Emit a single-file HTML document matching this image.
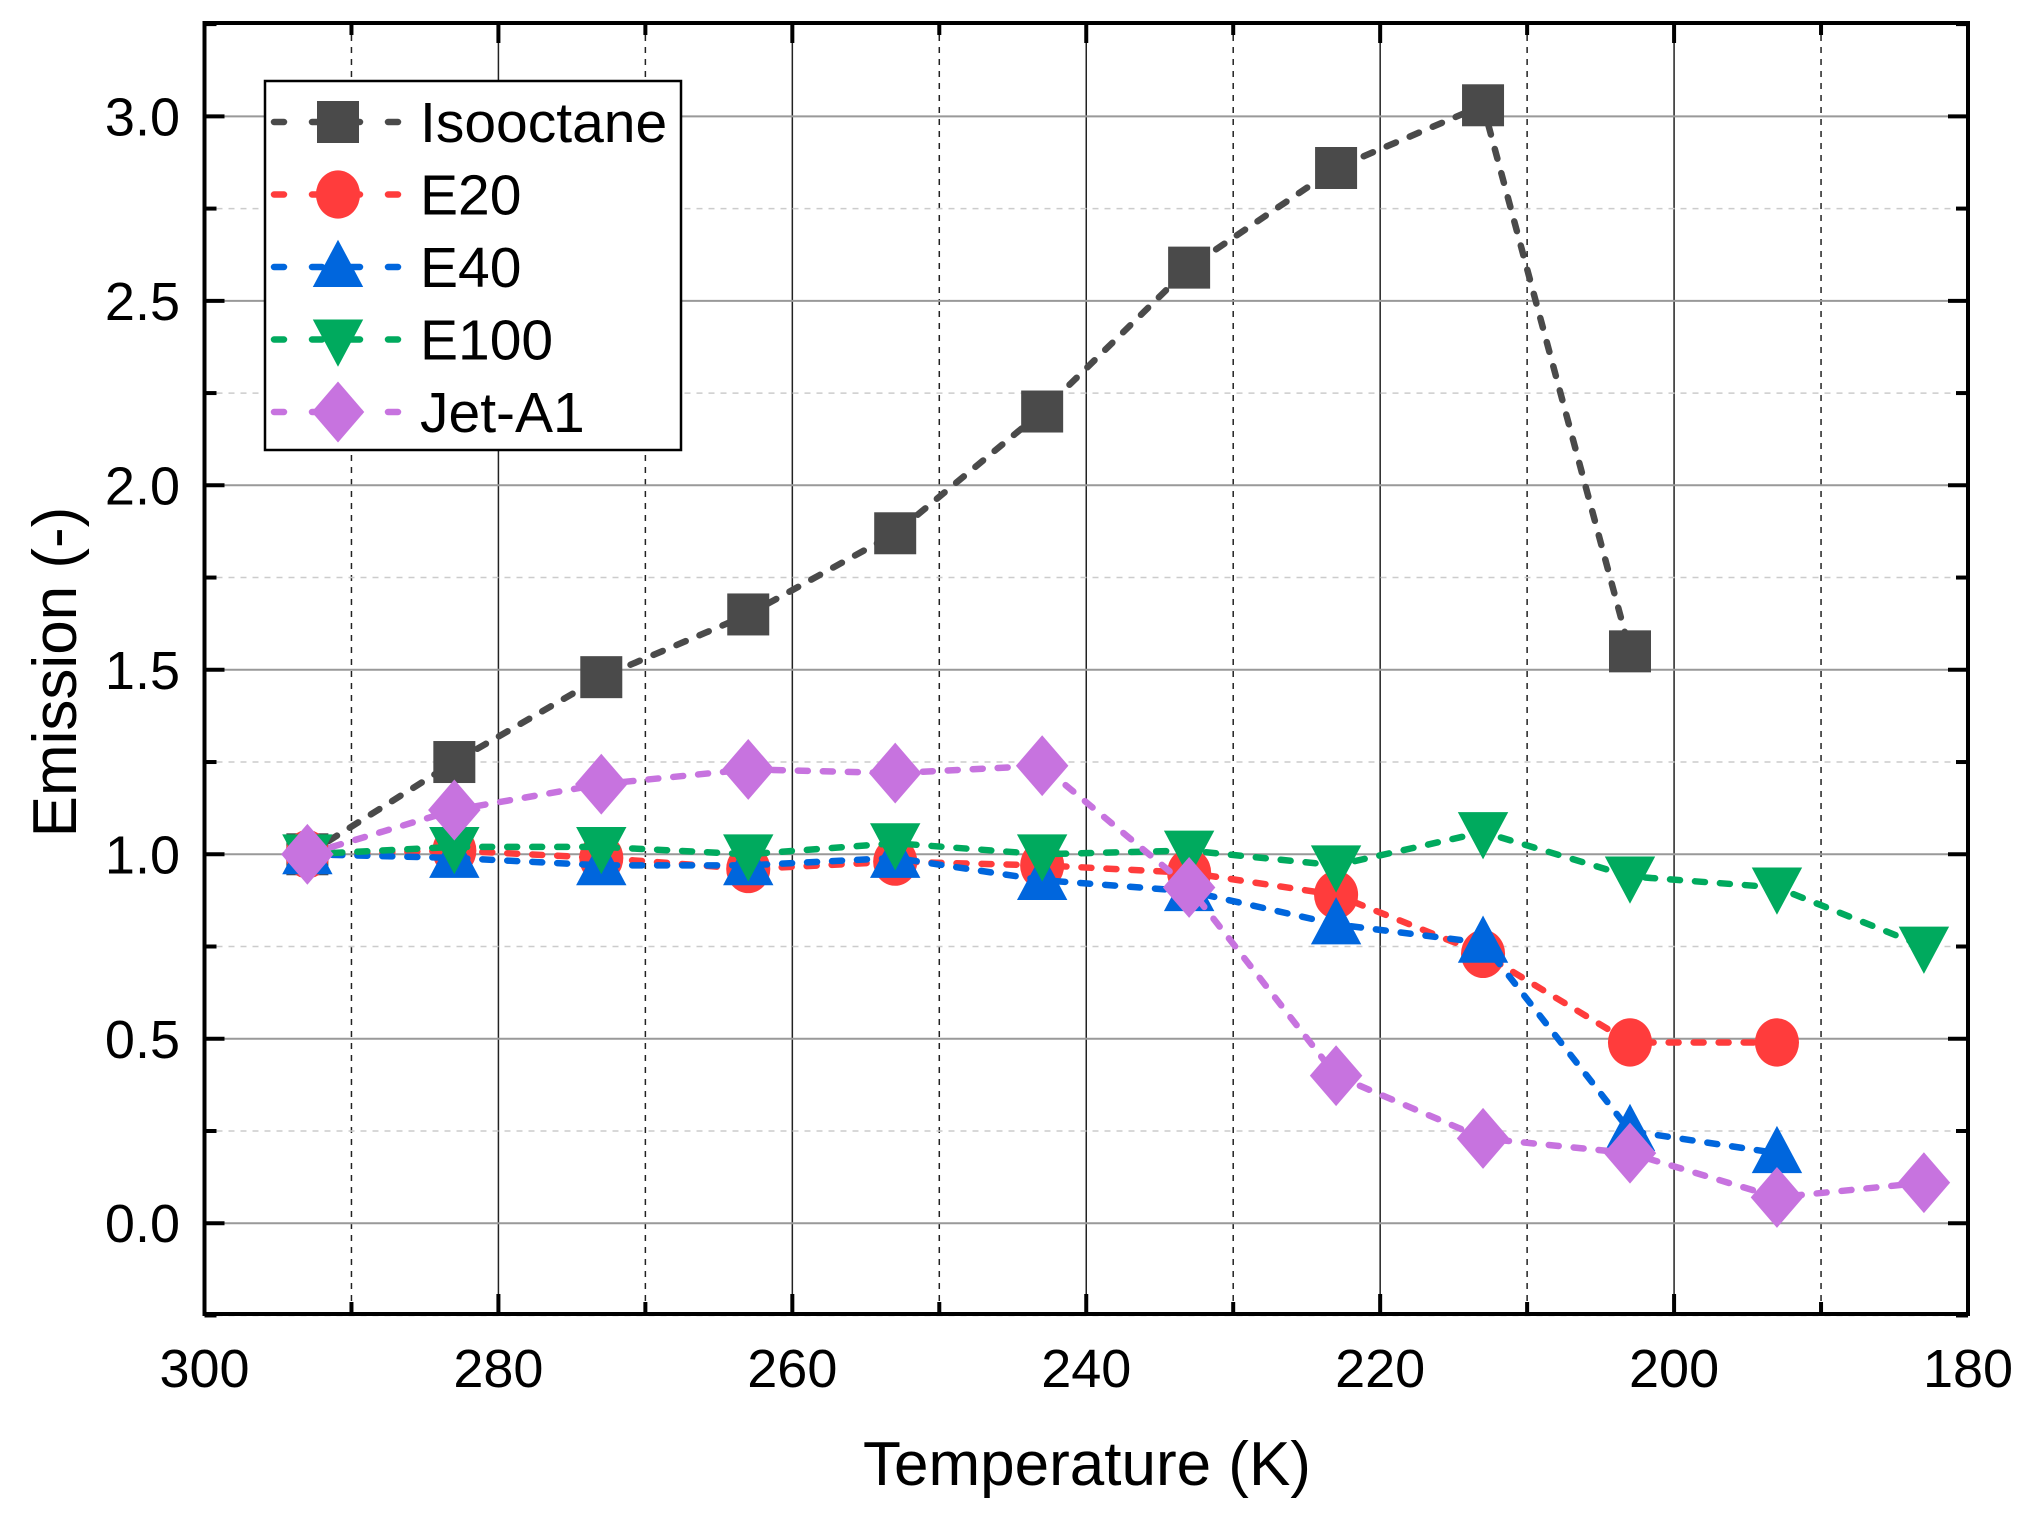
<!DOCTYPE html>
<html><head><meta charset="utf-8"><style>
html,body{margin:0;padding:0;background:#fff;}
svg{display:block;font-family:"Liberation Sans",Arial,sans-serif;}
</style></head><body>
<svg id="chart" width="2030" height="1519" viewBox="0 0 2030 1519">
<g id="grid"></g>
<g id="series"></g>
<g id="axes"></g>
<g id="legend"></g>
</svg>
<script>
const temps = [293,283,273,263,253,243,233,223,213,203,193,183];
const isooctane = [1.0,1.25,1.48,1.65,1.87,2.2,2.59,2.86,3.03,1.55];
const e20 = [1.0,1.01,0.99,0.96,0.98,0.97,0.95,0.89,0.73,0.49,0.49];
const e40 = [1.0,0.99,0.97,0.97,0.99,0.93,0.90,0.81,0.76,0.25,0.19];
const e100 = [1.0,1.02,1.02,1.0,1.03,1.0,1.01,0.97,1.06,0.94,0.91,0.75];
const jetA1 = [1.0,1.12,1.19,1.23,1.22,1.24,0.91,0.40,0.23,0.19,0.07,0.11];
const xTicks = [300,280,260,240,220,200,180];
const yTicks = ["0.0","0.5","1.0","1.5","2.0","2.5","3.0"];
const seriesNames = ["Isooctane","E20","E40","E100","Jet-A1"];

const L=204.5,R=1968,T=23,B=1314;
const X0=300,X1=180,Y0=-0.246,Y1=3.253;
const sx=v=>L+(v-X0)/(X1-X0)*(R-L);
const sy=v=>B-(v-Y0)/(Y1-Y0)*(B-T);
const NS="http://www.w3.org/2000/svg";
function mk(tag,attrs,parent){const e=document.createElementNS(NS,tag);for(const k in attrs)e.setAttribute(k,attrs[k]);parent.appendChild(e);return e;}
const grid=document.getElementById('grid'),axes=document.getElementById('axes'),ser=document.getElementById('series'),leg=document.getElementById('legend');

for(let v=180;v<=300;v+=10){
  const x=sx(v); const major=(v%20===0);
  if(v===300||v===180) continue;
  const g=mk('line',{x1:x,x2:x,y1:T,y2:B,stroke:'#222','stroke-width':1.5,'stroke-dasharray':major?'':'6,6'},grid);
  
  
}
for(let v=-0.25;v<=3.26;v+=0.25){
  const y=sy(v); const major=Math.abs(v*2-Math.round(v*2))<1e-6;
  const g=mk('line',{x1:L,x2:R,y1:y,y2:y,stroke:major?'#999':'#ccc','stroke-width':major?2:1.5,'stroke-dasharray':major?'':'6,6'},grid);
  
  
}

const colors=['#4a4a4a','#ff3c3c','#0066dd','#00aa5e','#c773df'];
const data=[isooctane,e20,e40,e100,jetA1];
function marker(i,cx,cy,parent,s){
  const c=colors[i];let m;
  if(i===0) m=mk('rect',{x:cx-s,y:cy-s,width:2*s,height:2*s,fill:c},parent);
  else if(i===1) m=mk('ellipse',{cx:cx,cy:cy,rx:s*1.05,ry:s*1.15,fill:c},parent);
  else if(i===2) m=mk('polygon',{points:`${cx},${cy-s*1.3} ${cx+s*1.2},${cy+s*0.95} ${cx-s*1.2},${cy+s*0.95}`,fill:c},parent);
  else if(i===3) m=mk('polygon',{points:`${cx},${cy+s*1.3} ${cx+s*1.2},${cy-s*0.95} ${cx-s*1.2},${cy-s*0.95}`,fill:c},parent);
  else m=mk('polygon',{points:`${cx},${cy-s*1.45} ${cx+s*1.25},${cy} ${cx},${cy+s*1.45} ${cx-s*1.25},${cy}`,fill:c},parent);
  return m;
}
data.forEach((arr,i)=>{
  const g=mk('g',{},ser);
  
  
  const pts=arr.map((v,j)=>sx(temps[j])+','+sy(v)).join(' ');
  const pl=mk('polyline',{points:pts,fill:'none',stroke:colors[i],'stroke-width':6.5,'stroke-dasharray':'10,15','stroke-linecap':'round'},g);
  
  
  arr.forEach((v,j)=>{
    const m=marker(i,sx(temps[j]),sy(v),g,21);
    
    
  });
});

const fr=mk('rect',{x:L,y:T,width:R-L,height:B-T,fill:'none',stroke:'#000','stroke-width':4},axes);


for(let v=180;v<=300;v+=10){
  const x=sx(v),len=(v%20===0)?20:12;
  mk('line',{x1:x,x2:x,y1:B,y2:B-len,stroke:'#000','stroke-width':4},axes);
  mk('line',{x1:x,x2:x,y1:T,y2:T+len,stroke:'#000','stroke-width':4},axes);
}
for(let v=-0.25;v<=3.26;v+=0.25){
  const y=sy(v),major=Math.abs(v*2-Math.round(v*2))<1e-6,len=major?20:12;
  mk('line',{x1:L,x2:L+len,y1:y,y2:y,stroke:'#000','stroke-width':4},axes);
  mk('line',{x1:R,x2:R-len,y1:y,y2:y,stroke:'#000','stroke-width':4},axes);
}
xTicks.forEach(v=>{
  const t=mk('text',{x:sx(v),y:1387,'font-size':54,'text-anchor':'middle',fill:'#000'},axes);
  t.textContent=v;
  
  
});
yTicks.forEach(s=>{
  const t=mk('text',{x:180,y:sy(parseFloat(s))+19,'font-size':54,'text-anchor':'end',fill:'#000'},axes);
  t.textContent=s;
  
  
});
const xt=mk('text',{x:1087,y:1485,'font-size':62,'text-anchor':'middle',fill:'#000'},axes);
xt.textContent='Temperature (K)';


const yt=mk('text',{x:0,y:0,'font-size':62,'text-anchor':'middle',fill:'#000',transform:'translate(76,672) rotate(-90)'},axes);
yt.textContent='Emission (-)';



const lb=mk('rect',{x:265,y:81,width:416,height:369,fill:'#fff',stroke:'#000','stroke-width':2.5},leg);


seriesNames.forEach((n,i)=>{
  const y=122+i*72.5;
  const g=mk('g',{},leg);
  
  
  mk('line',{x1:274,x2:402,y1:y,y2:y,stroke:colors[i],'stroke-width':6.5,'stroke-dasharray':'10,28','stroke-linecap':'round'},g);
  marker(i,338,y,g,21);
  const t=mk('text',{x:420,y:y+20,'font-size':57,fill:'#000'},g);
  t.textContent=n;
});
</script>
</body></html>
